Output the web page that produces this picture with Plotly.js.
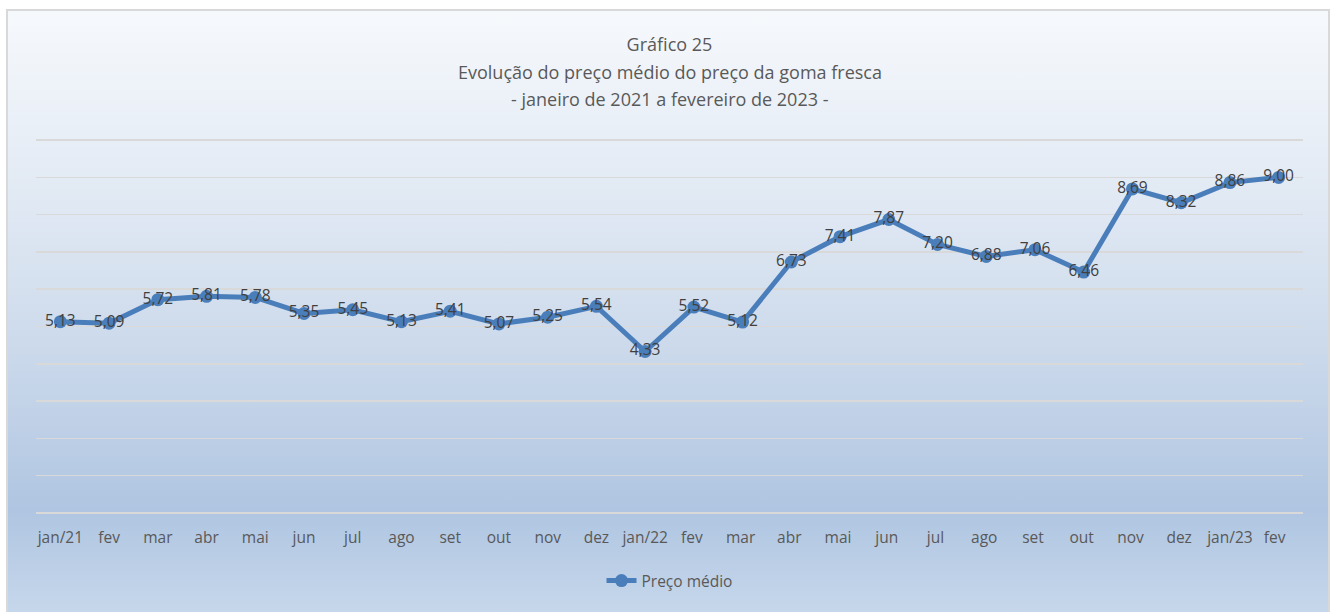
<!DOCTYPE html>
<html>
<head>
<meta charset="utf-8">
<script src="https://cdn.plot.ly/plotly-3.0.1.min.js"></script>
<style>
html,body{margin:0;padding:0;width:1336px;height:612px;overflow:hidden;background:#ffffff;}
#bg{position:absolute;left:6px;top:9px;width:1324px;height:605px;border:2px solid #d9d9d9;box-sizing:border-box;
background:linear-gradient(to bottom,#f6f9fc 0%,#e9eff7 20%,#d6e1ef 45%,#c0d1e7 68%,#afc5e1 83%,#c6d7eb 100%);}
#chart{position:absolute;left:0;top:0;width:1336px;height:612px;}
</style>
</head>
<body>
<div id="bg"></div>
<div id="chart"></div>
<script>
const categories = ["jan/21","fev","mar","abr","mai","jun","jul","ago","set","out","nov","dez",
  "jan/22","fev ","mar ","abr ","mai ","jun ","jul ","ago ","set ","out ","nov ","dez ","jan/23","fev  "];
const precoMedio = [5.13,5.09,5.72,5.81,5.78,5.35,5.45,5.13,5.41,5.07,5.25,5.54,
  4.33,5.52,5.12,6.73,7.41,7.87,7.20,6.88,7.06,6.46,8.69,8.32,8.86,9.00];
const seriesName = "Preço médio";
const titleLines = ["Gráfico 25","Evolução do preço médio do preço da goma fresca","- janeiro de 2021 a fevereiro de 2023 -"];

const font = "'Open Sans', 'Noto Sans', sans-serif";
const trace = {
  x: categories, y: precoMedio, type: "scatter", mode: "lines+markers+text",
  name: seriesName,
  line: {color: "#4a7ebb", width: 5},
  marker: {color: "#4a7ebb", size: 13},
  texttemplate: "%{y:.2f}", textposition: "middle center",
  textfont: {family: font, size: 15.5, color: "#404040"},
  cliponaxis: false, hoverinfo: "skip"
};
const layout = {
  width: 1336, height: 612,
  paper_bgcolor: "rgba(0,0,0,0)", plot_bgcolor: "rgba(0,0,0,0)",
  separators: ",.",
  margin: {l: 36, r: 33, t: 139, b: 98},
  font: {family: font, color: "#595959"},
  title: {text: titleLines[0], font: {family: font, size: 18, color: "#595959"},
    x: 0.5, xref: "paper", y: 1 - 45/612, yref: "container", yanchor: "middle"},
  annotations: [
    {text: titleLines[1], xref: "paper", x: 0.5, yref: "paper", y: (514 - 72)/375, yanchor: "middle",
     showarrow: false, font: {family: font, size: 18, color: "#595959"}},
    {text: titleLines[2], xref: "paper", x: 0.5, yref: "paper", y: (514 - 99)/375, yanchor: "middle",
     showarrow: false, font: {family: font, size: 18, color: "#595959"}}
  ],
  xaxis: {type: "category", range: [-0.5, categories.length - 0.5], showgrid: false, zeroline: false,
    showline: false, ticks: "", tickfont: {family: font, size: 15.5, color: "#595959"},
    ticklabelstandoff: 12, fixedrange: true},
  yaxis: {range: [-0.03, 10.03], dtick: 1, tick0: 0, showticklabels: false, showgrid: true, gridcolor: "#d9d9d9",
    gridwidth: 1.5, zeroline: false, showline: false, ticks: "", fixedrange: true},
  showlegend: true,
  legend: {orientation: "h", x: 0.5, xanchor: "center", y: (514 - 581)/375, yanchor: "middle",
    font: {family: font, size: 15.5, color: "#595959"}, bgcolor: "rgba(0,0,0,0)"}
};
Plotly.newPlot("chart", [trace], layout, {displayModeBar: false, staticPlot: true});
</script>
</body>
</html>
